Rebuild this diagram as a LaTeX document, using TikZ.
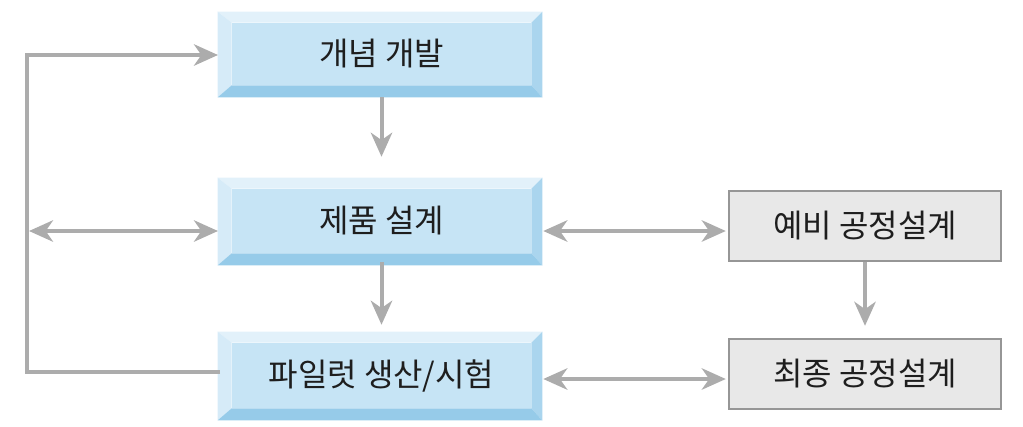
\documentclass[tikz,border=0pt]{standalone}
\usepackage{fontspec}
\setmainfont{Noto Sans CJK KR}
\usetikzlibrary{arrows.meta,calc,backgrounds}
\definecolor{bface}{RGB}{198,228,245}
\definecolor{btop}{RGB}{226,241,250}
\definecolor{bleft}{RGB}{214,235,248}
\definecolor{bright}{RGB}{170,213,238}
\definecolor{bbot}{RGB}{150,203,233}
\definecolor{gfill}{RGB}{232,232,232}
\definecolor{gline}{RGB}{150,150,150}
\definecolor{arr}{RGB}{172,172,172}
\definecolor{txt}{RGB}{30,30,30}
\tikzset{
  face/.style={fill=bface, inner sep=0pt, text=txt, font=\fontsize{24pt}{28pt}\selectfont},
  graybox/.style={fill=gfill, draw=gline, line width=1.8pt, inner sep=0pt, text=txt, font=\fontsize{24pt}{28pt}\selectfont},
  conn/.style={draw=arr, line width=3pt},
  tip/.style={-{Stealth[length=18pt,width=16pt,inset=5.5pt]}},
  tips/.style={{Stealth[length=18pt,width=16pt,inset=5.5pt]}-{Stealth[length=18pt,width=16pt,inset=5.5pt]}},
}
\newcommand\myBevel[1]{%
  \fill[btop] ($(#1.north west)+(-14,-11)$) -- ($(#1.north east)+(11,-11)$) -- (#1.north east) -- (#1.north west) -- cycle;
  \fill[bleft] ($(#1.north west)+(-14,-11)$) -- (#1.north west) -- (#1.south west) -- ($(#1.south west)+(-14,12)$) -- cycle;
  \fill[bright] ($(#1.north east)+(11,-11)$) -- ($(#1.south east)+(11,12)$) -- (#1.south east) -- (#1.north east) -- cycle;
  \fill[bbot] ($(#1.south west)+(-14,12)$) -- ($(#1.south east)+(11,12)$) -- (#1.south east) -- (#1.south west) -- cycle;
}
\begin{document}
\begin{tikzpicture}[x=0.75pt,y=-0.75pt]
\useasboundingbox (0,0) rectangle (1023,426);
% blue boxes (inner faces)
\node[face, minimum width=299*0.75pt, minimum height=62*0.75pt] (a) at (381.5,54) {개념 개발};
\node[face, minimum width=299*0.75pt, minimum height=64*0.75pt] (b) at (381.5,221) {제품 설계};
\node[face, minimum width=299*0.75pt, minimum height=65*0.75pt] (c) at (381.5,375.5) {파일럿 생산/시험};
\begin{scope}[on background layer]
\myBevel{a}\myBevel{b}\myBevel{c}
\end{scope}
% gray boxes
\node[graybox, minimum width=272*0.75pt, minimum height=70*0.75pt] (d) at (865,226) {예비 공정설계};
\node[graybox, minimum width=272*0.75pt, minimum height=70*0.75pt] (e) at (865,374) {최종 공정설계};
% coordinates for left loop
\coordinate (lt) at (27,55);
\coordinate (lm) at (29,231);
\coordinate (lb) at (27,372);
\coordinate (at) at (218,55);
\coordinate (bl) at (218,231);
\coordinate (cl) at (220,372);
% connectors
\draw[conn,tip] (cl) -- (lb) -- (lt) -- (at);
\draw[conn,tips] (lm) -- (bl);
\draw[conn,tip] ($(a.south)+(0,12)$) -- ($(b.north)+(0,-32)$);
\draw[conn,tip] ($(b.south)+(0,9)$) -- ($(c.north)+(0,-18)$);
\draw[conn,tip] (d.south) -- ($(e.north)+(0,-12)$);
\draw[conn,tips] ($(b.east)+(12,10)$) -- ($(d.west)+(-2,5)$);
\draw[conn,tips] ($(c.east)+(12,3.5)$) -- ($(e.west)+(-2,5)$);
\end{tikzpicture}
\end{document}
